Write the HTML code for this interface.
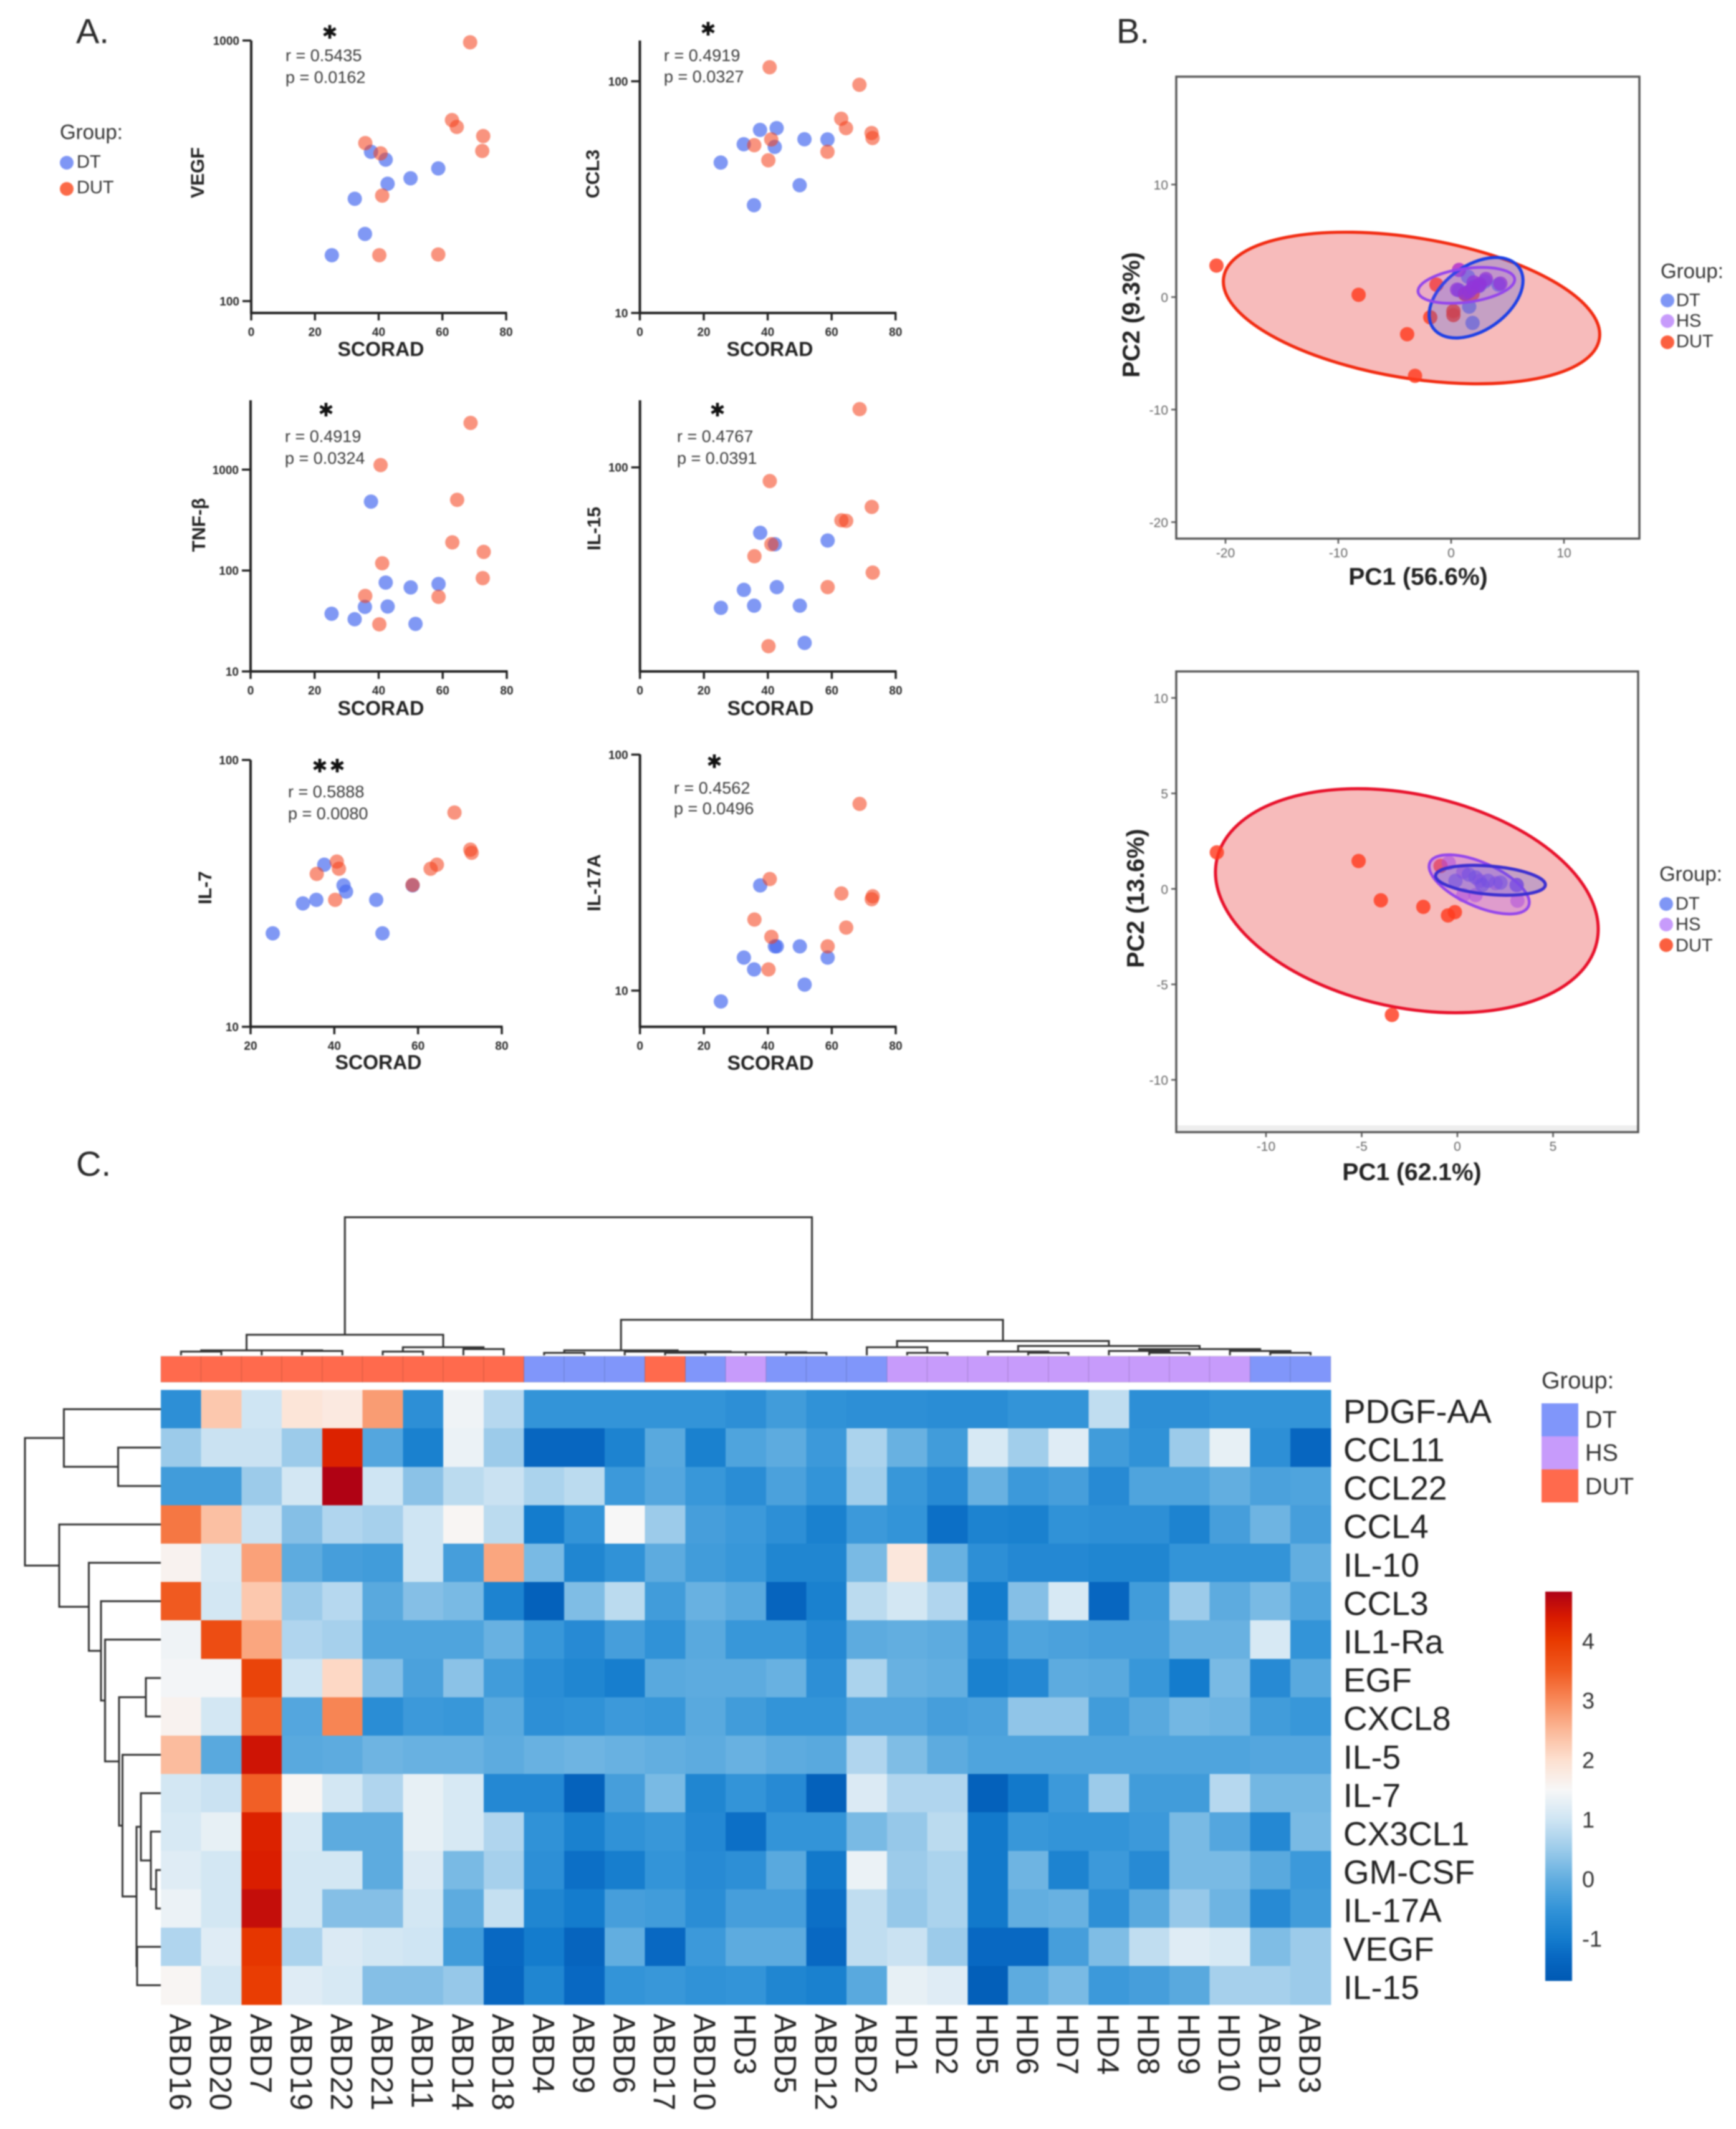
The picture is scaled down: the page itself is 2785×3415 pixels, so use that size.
<!DOCTYPE html>
<html lang="en">
<head>
<meta charset="utf-8">
<title>Cytokine correlations, PCA and heatmap</title>
<style>
html,body{margin:0;padding:0;background:#fff;overflow:hidden;}
svg{display:block;font-family:"Liberation Sans",Arial,sans-serif;filter:blur(1px);}
.panel-letter{font-size:56px;fill:#2a2a2a;}
.legend-title{font-size:33px;fill:#333;}
.legend-text{font-size:29px;fill:#333;}
.heat-legend{font-size:38px;fill:#333;}
</style>
</head>
<body>
<svg id="figure" xmlns="http://www.w3.org/2000/svg" width="2785" height="3415" viewBox="0 0 2785 3415">
  <rect x="0" y="0" width="2785" height="3415" fill="#ffffff"/>
  <text class="panel-letter" x="122" y="69">A.</text>
  <text class="panel-letter" x="1791" y="69">B.</text>
  <text class="panel-letter" x="122" y="1886">C.</text>

  <g>
    <text class="legend-title" x="96" y="223">Group:</text>
    <circle cx="107" cy="261" r="11" fill="#7f96f5"/>
    <text class="legend-text" x="123" y="269">DT</text>
    <circle cx="107" cy="303" r="11" fill="#fb6a48"/>
    <text class="legend-text" x="123" y="310">DUT</text>
  </g>

  <g>
    <text class="legend-title" x="2664" y="446">Group:</text>
    <circle cx="2675" cy="482" r="11" fill="#7f96f5"/>
    <text class="legend-text" x="2689" y="491">DT</text>
    <circle cx="2675" cy="515" r="11" fill="#c79bfb"/>
    <text class="legend-text" x="2689" y="524">HS</text>
    <circle cx="2675" cy="549" r="11" fill="#fb5f3f"/>
    <text class="legend-text" x="2689" y="557">DUT</text>
  </g>

  <g>
    <text class="legend-title" x="2662" y="1413">Group:</text>
    <circle cx="2673" cy="1450" r="11" fill="#7f96f5"/>
    <text class="legend-text" x="2688" y="1459">DT</text>
    <circle cx="2673" cy="1483" r="11" fill="#c79bfb"/>
    <text class="legend-text" x="2688" y="1492">HS</text>
    <circle cx="2673" cy="1516" r="11" fill="#fb5f3f"/>
    <text class="legend-text" x="2688" y="1526">DUT</text>
  </g>

  <g>
    <text class="heat-legend" x="2473" y="2227">Group:</text>
    <rect x="2473" y="2251" width="59" height="53" fill="#8096fa"/>
    <rect x="2473" y="2304" width="59" height="53" fill="#c79bfb"/>
    <rect x="2473" y="2357" width="59" height="53" fill="#ff6a4d"/>
    <text class="heat-legend" x="2543" y="2290">DT</text>
    <text class="heat-legend" x="2543" y="2343">HS</text>
    <text class="heat-legend" x="2543" y="2397">DUT</text>
  </g>
</svg>

<script>
// ---------- Panel A data: SCORAD of each subject, then one cytokine per array ----------
const scoradDT  = [25.3, 32.5, 35.7, 37.6, 42.2, 42.8, 50.0, 51.5, 58.7];
const scoradDUT = [35.8, 40.2, 40.6, 41.1, 58.7, 63.0, 64.5, 68.7, 72.5, 72.8];

const vegfDT   = [150, 247, 181, 374, 349, 282, 296, null, 323];
const vegfDUT  = [404, 150, 369, 254, 151, 495, 466, 984, 377, 430];
const ccl3DT   = [44.6, 53.5, 29.2, 61.7, 52.1, 62.8, 35.6, 56.2, 56.1];
const ccl3DUT  = [53, 45.6, 115, 56.1, 49.6, 68.9, 62.8, 96.6, 59.8, 56.9];
const tnfDT    = [37.3, 32.9, 43.6, 482, 76, 44, 68, 29.6, 73.5];
const tnfDUT   = [56, 29.3, 1109, 118, 54.8, 190, 502, 2904, 84, 153];
const il15DT   = [20.5, 25.1, 21, 47.8, 42, 25.9, 21, 13.8, 43.8];
const il15DUT  = [36.7, 13.3, 85.7, 42, 25.9, 55, 54.7, 193, 64, 30.5];
const il7DT    = [22.4, 29, 29.9, 40.5, 33.9, 32.1, 29.9, 22.4, 33.9];
const il7DUT   = [37.4, 29.9, 41.6, 39.1, 34, 39.1, 40.5, 63.5, 46.1, 44.9];
const il17aDT  = [9, 13.8, 12.3, 27.9, 15.4, 15.4, 15.4, 10.6, 13.8];
const il17aDUT = [20, 12.3, 29.7, 16.9, 15.4, 25.8, 18.5, 61.8, 24.4, 25.1];

const ticksX0to80  = [0, 20, 40, 60, 80];
const ticksX20to80 = [20, 40, 60, 80];

// ---------- Panel B data ----------
const pcaTopDutX = [-20.8, -8.2, -3.9, -3.2, -1.85, 0.2, 0.2, -1.3, 1.25, 1.9];
const pcaTopDutY = [2.8, 0.2, -3.3, -7.0, -1.8, -1.25, -1.6, 1.1, 0.25, 0.3];
const pcaTopHsX  = [0.7, 0.53, 2.53, 3.08, 4.36, 2.0, 2.38, 1.28, 1.9, 1.6];
const pcaTopHsY  = [2.41, 0.66, 1.14, 1.6, 1.2, 1.3, 0.98, 0.34, 0.8, 0.5];
const pcaTopDtX  = [1.6, 1.9, 4.2, 3.0, 2.5, 0.7, 1.2, 2.0, 1.5];
const pcaTopDtY  = [-0.85, -2.3, 1.1, 1.4, 1.0, 0.6, 0.3, 0.9, 1.8];
const pcaTopTicksX = [-20, -10, 0, 10];
const pcaTopTicksY = [10, 0, -10, -20];

const pcaBotDutX = [-12.57, -5.16, -4.0, -1.78, -0.49, -0.13, -3.42, -0.88];
const pcaBotDutY = [1.91, 1.46, -0.6, -0.94, -1.39, -1.22, -6.6, 1.2];
const pcaBotHsX  = [0.31, 0.95, 3.14, -0.45, 0.31, 1.16, 2.0, 3.1];
const pcaBotHsY  = [-0.33, -0.33, -0.62, 1.36, 0.88, 0.42, 0.3, 0.2];
const pcaBotDtX  = [0.95, 1.6, 2.25, 3.1, -0.1, 1.3, 0.6];
const pcaBotDtY  = [0.6, 0.42, 0.33, 0.2, 0.42, 0.2, 0.75];
const pcaBotTicksX = [-10, -5, 0, 5];
const pcaBotTicksY = [10, 5, 0, -5, -10];

// ellipse summaries: centre x, centre y, semi-axis a, semi-axis b, tilt in degrees
const pcaTopEllipseDUT = [-3.51, -0.97, 16.87, 6.22, 9.3];
const pcaTopEllipseDT  = [2.21, -0.06, 4.66, 2.88, -35];
const pcaTopEllipseHS  = [1.35, 1.04, 4.32, 1.49, -7.7];
const pcaBotEllipseDUT = [-2.64, -0.62, 10.16, 5.57, 12.2];
const pcaBotEllipseHS  = [1.14, 0.235, 2.82, 1.14, 23.9];
const pcaBotEllipseDT  = [1.73, 0.45, 2.88, 0.74, 5];

// ---------- Panel C data ----------
const colLabels = ["ABD16","ABD20","ABD7","ABD19","ABD22","ABD21","ABD11","ABD14","ABD18","ABD4","ABD9","ABD6","ABD17","ABD10","HD3","ABD5","ABD12","ABD2","HD1","HD2","HD5","HD6","HD7","HD4","HD8","HD9","HD10","ABD1","ABD3"];
const colGroups = ["DUT","DUT","DUT","DUT","DUT","DUT","DUT","DUT","DUT","DT","DT","DT","DUT","DT","HS","DT","DT","DT","HS","HS","HS","HS","HS","HS","HS","HS","HS","DT","DT"];
const rowLabels = ["PDGF-AA","CCL11","CCL22","CCL4","IL-10","CCL3","IL1-Ra","EGF","CXCL8","IL-5","IL-7","CX3CL1","GM-CSF","IL-17A","VEGF","IL-15"];
const heatValues = [
 [-.6,2.3,1.0,1.9,1.8,2.8,-.6,1.4,.75,-.5,-.5,-.5,-.5,-.5,-.6,-.35,-.55,-.6,-.6,-.65,-.65,-.5,-.5,.85,-.6,-.6,-.5,-.5,-.5],
 [.5,.95,.95,.5,4.3,-.15,-.9,1.35,.5,-1.35,-1.35,-.85,-.1,-.9,-.2,-.05,-.4,.65,.05,-.35,1.1,.55,1.2,-.35,-.55,.5,1.3,-.6,-1.35],
 [-.35,-.35,.5,1.05,4.8,1.0,.35,.8,.95,.65,.8,-.4,-.15,-.45,-.65,-.25,-.5,.55,-.45,-.7,.05,-.4,-.3,-.7,-.2,-.2,0,-.25,-.2],
 [3.2,2.4,.95,.3,.7,.6,1.0,1.55,.8,-1.0,-.5,1.5,.5,-.3,-.4,-.6,-.9,-.4,-.5,-1.2,-.85,-.9,-.55,-.6,-.6,-.85,-.3,.1,-.3],
 [1.6,1.1,2.75,-.05,-.3,-.35,1.0,-.3,2.7,.2,-.8,-.55,-.05,-.35,-.45,-.8,-.8,.2,1.85,.05,-.6,-.75,-.75,-.8,-.8,-.5,-.5,-.5,0],
 [3.5,1.05,2.3,.5,.75,-.1,.3,.2,-.85,-1.5,.25,.8,-.35,.05,-.1,-1.4,-.9,.8,1.05,.7,-1.0,.3,1.1,-1.35,-.35,.5,-.05,.2,-.2],
 [1.4,3.7,2.7,.7,.6,-.2,-.2,-.2,.05,-.45,-.7,-.3,-.55,-.1,-.45,-.45,-.75,-.05,0,-.05,-.7,-.2,-.25,-.3,-.3,.05,.05,1.1,-.5],
 [1.45,1.45,3.85,1.0,2.1,.3,-.25,.35,-.35,-.65,-.8,-.95,-.1,-.05,-.05,.05,-.6,.65,.05,0,-.9,-.75,-.05,-.1,-.45,-1.0,.2,-.7,-.1],
 [1.6,1.05,3.4,-.15,3.05,-.65,-.4,-.45,-.1,-.6,-.55,-.4,-.45,-.1,-.35,-.5,-.5,-.15,-.15,-.3,-.25,.4,.4,-.35,-.1,.15,.1,-.35,-.45],
 [2.45,-.1,4.5,-.1,-.05,.1,.05,.05,-.05,.05,.1,.05,0,-.05,.05,-.05,-.1,.7,.25,-.05,-.2,-.2,-.2,-.2,-.2,-.2,-.2,-.15,-.15],
 [1.05,.95,3.45,1.55,1.05,.7,1.3,1.1,-.75,-.75,-1.45,-.3,.2,-.8,-.5,-.7,-1.5,1.15,.7,.7,-1.5,-1.05,-.4,.5,-.35,-.35,.75,.15,.15],
 [1.1,1.3,4.3,1.1,-.05,-.05,1.3,1.1,.7,-.55,-.9,-.55,-.45,-.75,-1.2,-.5,-.5,.2,.45,.8,-1.05,-.45,-.5,-.5,-.4,.2,-.15,-.75,.2],
 [1.2,1.05,4.35,1.05,1.05,-.05,1.15,.2,.6,-.6,-1.2,-.95,-.5,-.7,-.6,-.1,-1.05,1.35,.5,.65,-1.05,.1,-.85,-.4,-.7,.2,.2,-.1,-.4],
 [1.35,1.05,4.6,1.05,.3,.3,1.05,-.05,.9,-.8,-1.0,-.3,-.35,-.65,-.3,-.3,-1.2,.85,.45,.65,-1.05,0,.05,-.6,-.1,.45,.1,-.7,-.35],
 [.7,1.2,4.05,.65,1.15,1.05,1.0,-.35,-1.3,-1.0,-1.4,0,-1.3,-.4,-.05,-.05,-1.3,.85,.95,.5,-1.3,-1.3,-.3,.25,.85,1.2,1.1,.25,.5],
 [1.55,1.05,3.95,1.2,1.1,.3,.3,.45,-1.35,-.8,-1.3,-.5,-.45,-.55,-.5,-.8,-.9,-.1,1.3,1.2,-1.55,-.05,.2,-.4,-.3,-.1,.6,.6,.5]
];
const colorbarTicks = [4, 3, 2, 1, 0, -1];
const colorStopValues = [-1.7,-1.3,-1,-.5,0,.5,1,1.5,2,2.5,3,3.5,4,4.4,4.83];
const colorStopHex = ["#0059b3","#0868c2","#147ccd","#3394d8","#62aee0","#9ccbea","#cfe5f3","#f7f7f7","#fde0d0","#fbb898","#f88a5a","#f05a20","#e83a00","#d81a00","#ad0016"];

// dendrograms: a node is [merge height, child, child]; a bare number is a leaf index
const colTree = [221.5,
  [33,
    [8, [6,0,1], [8,2,[7,3,4]]],
    [13, [6,5,6], [10,7,8]]],
  [57,
    [8, [4,9,10], [6,11,[5,[4,12,13],[5,14,[4,15,16]]]]],
    [23,
      [13, 17, [4,18,19]],
      [15,
        [6, 20, [4,21,22]],
        [10, [7,23,[4,24,25]], [7,26,[4,27,28]]]]]]];
const rowTree = [218,
  [155.5, 0, [68.5,1,2]],
  [163, 3,
    [115.5, 4,
      [96, 5,
        [89.5, 6,
          [67,
            [24,7,8],
            [61.5, 9,
              [39,
                [32,10,[16,11,[7.5,12,13]]],
                [38,14,15]]]]]]]]];

// ---------- helpers ----------
const SVGNS = "http://www.w3.org/2000/svg";
const root = document.getElementById("figure");
function make(tag, attrs, parent, text) {
  const el = document.createElementNS(SVGNS, tag);
  for (const k in attrs) el.setAttribute(k, attrs[k]);
  if (text !== undefined) el.textContent = text;
  parent.appendChild(el);
  return el;
}
function linear(d0, d1, r0, r1) { return v => r0 + (v - d0) * (r1 - r0) / (d1 - d0); }
function logScale(d0, d1, r0, r1) { return v => r0 + (Math.log10(v) - Math.log10(d0)) * (r1 - r0) / (Math.log10(d1) - Math.log10(d0)); }

// ---------- Panel A ----------
const scatterPanels = [
  {id:"vegf", title:"VEGF", dt:vegfDT, dut:vegfDUT, ax:403, right:812, ay:502, top:65, xt:ticksX0to80, yt:[1000,100], log:[100,483,1000,65], tlx:316, tly:277, sx:611, sb:571, rtx:458, rb:98, pb:133, r:"r = 0.5435", p:"p = 0.0162", stars:[[529,51]]},
  {id:"ccl3", title:"CCL3", dt:ccl3DT, dut:ccl3DUT, ax:1026.5, right:1436.7, ay:502, top:65, xt:ticksX0to80, yt:[100,10], log:[10,502,100,130.4], tlx:950, tly:279, sx:1235, sb:571, rtx:1065, rb:98, pb:132, r:"r = 0.4919", p:"p = 0.0327", stars:[[1136,46]]},
  {id:"tnf-beta", title:"TNF-β", dt:tnfDT, dut:tnfDUT, ax:402, right:813, ay:1077, top:642, xt:ticksX0to80, yt:[1000,100,10], log:[10,1077,1000,753.3], tlx:318, tly:842, sx:611, sb:1147, rtx:457, rb:709, pb:744, r:"r = 0.4919", p:"p = 0.0324", stars:[[523,657]]},
  {id:"il-15", title:"IL-15", dt:il15DT, dut:il15DUT, ax:1026.7, right:1437, ay:1077, top:642, xt:ticksX0to80, yt:[100], log:[10,1077,100,749.7], tlx:952, tly:848, sx:1236, sb:1147, rtx:1086, rb:709, pb:744, r:"r = 0.4767", p:"p = 0.0391", stars:[[1151,657]]},
  {id:"il-7", title:"IL-7", dt:il7DT, dut:il7DUT, ax:402, right:805, ay:1647, top:1219, xt:ticksX20to80, yt:[100,10], log:[10,1647,100,1219], tlx:328, tly:1424, sx:607, sb:1715, rtx:462, rb:1279, pb:1314, r:"r = 0.5888", p:"p = 0.0080", stars:[[513,1228],[541,1228]]},
  {id:"il-17a", title:"IL-17A", dt:il17aDT, dut:il17aDUT, ax:1026.7, right:1437, ay:1647, top:1210, xt:ticksX0to80, yt:[100,10], log:[10,1589,100,1210.4], tlx:952, tly:1416, sx:1236, sb:1716, rtx:1081, rb:1273, pb:1306, r:"r = 0.4562", p:"p = 0.0496", stars:[[1146,1221]]}
];

function drawDots(g, xs, ys, fx, fy, fill, op, rad, name) {
  xs.forEach((xv, i) => {
    if (ys[i] === null) return;
    const c = make("circle", {cx:fx(xv), cy:fy(ys[i]), r:rad, fill:fill, "fill-opacity":op}, g);
    
    
  });
}

scatterPanels.forEach(p => {
  const g = make("g", {}, root);
  
  
  const fx = linear(p.xt[0], p.xt[p.xt.length - 1], p.ax, p.right);
  const fy = logScale(p.log[0], p.log[2], p.log[1], p.log[3]);

  const yAxis = make("line", {x1:p.ax, x2:p.ax, y1:p.top, y2:p.ay + 1.5, stroke:"#222", "stroke-width":4}, g);
  
  
  const xAxis = make("line", {x1:p.ax - 1.5, x2:p.right + 1.5, y1:p.ay, y2:p.ay, stroke:"#222", "stroke-width":4}, g);
  
  

  p.xt.forEach(t => {
    const tick = make("line", {x1:fx(t), x2:fx(t), y1:p.ay, y2:p.ay + 12, stroke:"#222", "stroke-width":3.4}, g);
    
    
    const lab = make("text", {x:fx(t), y:p.ay + 37, "text-anchor":"middle", "font-size":19, "font-weight":"bold", fill:"#2a2a2a"}, g, t);
    
    
  });
  p.yt.forEach(t => {
    const tick = make("line", {x1:p.ax - 14, x2:p.ax, y1:fy(t), y2:fy(t), stroke:"#222", "stroke-width":3.4}, g);
    
    
    const lab = make("text", {x:p.ax - 19, y:fy(t) + 7, "text-anchor":"end", "font-size":19, "font-weight":"bold", fill:"#2a2a2a"}, g, t);
    
    
  });

  const ttl = make("text", {transform:"translate(" + (p.tlx + 11) + " " + p.tly + ") rotate(-90)", "text-anchor":"middle", "font-size":30, "font-weight":"bold", fill:"#222"}, g, p.title);
  
  
  const sc = make("text", {x:p.sx, y:p.sb, "text-anchor":"middle", "font-size":32, "font-weight":"bold", fill:"#222"}, g, "SCORAD");
  
  

  const rt = make("text", {x:p.rtx, y:p.rb, "font-size":27, fill:"#3a3a3a"}, g, p.r);
  
  
  const pt = make("text", {x:p.rtx, y:p.pb, "font-size":27, fill:"#3a3a3a"}, g, p.p);
  
  
  p.stars.forEach(s => {
    const st = make("text", {x:s[0], y:s[1] + 11, "text-anchor":"middle", "font-size":30, "font-family":"'DejaVu Sans',sans-serif", fill:"#111"}, g, "✱");
    
    
  });

  drawDots(g, scoradDT, p.dt, fx, fy, "#4a6cf0", 0.7, 11.5, 'point-dt');
  drawDots(g, scoradDUT, p.dut, fx, fy, "#f5401a", 0.56, 11.5, 'point-dut');
});

// ---------- Panel B ----------
const pcaPanels = [
  {id:"top", l:1887, r:2630, t:123, b:864, ox:2328, oy:476.5, ux:18.1, uy:18.05,
   tx:pcaTopTicksX, ty:pcaTopTicksY, dutX:pcaTopDutX, dutY:pcaTopDutY, hsX:pcaTopHsX, hsY:pcaTopHsY, dtX:pcaTopDtX, dtY:pcaTopDtY,
   eDUT:pcaTopEllipseDUT, eHS:pcaTopEllipseHS, eDT:pcaTopEllipseDT, order:["DT","HS"], dots:["DT","DUT","HS"], hsFill:0.16,
   xt:"PC1 (56.6%)", yt:"PC2 (9.3%)", xtx:2275, xtb:938, ytx:1828, yty:505, redStroke:"#f22a10", blue:"#1c3fe6", hsAlpha:0.75, hsColor:"#a81fd0", dtColor:"#5a5ae0", dtAlpha:0.62},
  {id:"bottom", l:1887, r:2628, t:1077, b:1816, ox:2338, oy:1425.8, ux:30.7, uy:30.63,
   tx:pcaBotTicksX, ty:pcaBotTicksY, dutX:pcaBotDutX, dutY:pcaBotDutY, hsX:pcaBotHsX, hsY:pcaBotHsY, dtX:pcaBotDtX, dtY:pcaBotDtY,
   eDUT:pcaBotEllipseDUT, eHS:pcaBotEllipseHS, eDT:pcaBotEllipseDT, order:["HS","DT"], dots:["DUT","HS","DT"], hsFill:0.34,
   xt:"PC1 (62.1%)", yt:"PC2 (13.6%)", xtx:2265, xtb:1893, ytx:1835, yty:1441, redStroke:"#e8102a", blue:"#3a2ed0", hsAlpha:0.5, hsColor:"#a838d8", dtColor:"#6a3ae0", dtAlpha:0.55}
];
pcaPanels.forEach(p => {
  const g = make("g", {}, root);
  
  
  const fx = v => p.ox + v * p.ux;
  const fy = v => p.oy - v * p.uy;

  if (p.id === "bottom") {
    const strip = make("rect", {x:p.l, y:p.b - 11, width:p.r - p.l, height:11, fill:"#eeeeee"}, g);
    
    
  }

  const styles = {
    DUT:{fill:"#e83232", op:0.33, stroke:p.redStroke, w:5},
    DT:{fill:"#465adc", op:0.28, stroke:p.blue, w:5},
    HS:{fill:"#b060f0", op:p.hsFill, stroke:"#9345ec", w:4.5}
  };
  function drawEllipse(k) {
    const e = p["e" + k], s = styles[k];
    const el = make("ellipse", {cx:fx(e[0]), cy:fy(e[1]), rx:e[2] * p.ux, ry:e[3] * p.ux,
      transform:"rotate(" + e[4] + " " + fx(e[0]) + " " + fy(e[1]) + ")",
      fill:s.fill, "fill-opacity":s.op, stroke:s.stroke, "stroke-width":s.w}, g);
    
    
  }
  drawEllipse("DUT");

  p.dots.forEach(k => {
    if (k === "DUT") drawDots(g, p.dutX, p.dutY, fx, fy, "#ff3a1e", 0.82, 11.5, 'point-dut');
    if (k === "HS") drawDots(g, p.hsX, p.hsY, fx, fy, p.hsColor, p.hsAlpha, 11.5, 'point-hs');
    if (k === "DT") drawDots(g, p.dtX, p.dtY, fx, fy, p.dtColor, p.dtAlpha, 11.5, 'point-dt');
  });

  p.order.forEach(drawEllipse);

  const frame = make("rect", {x:p.l, y:p.t, width:p.r - p.l, height:p.b - p.t, fill:"none", stroke:"#555", "stroke-width":3.4}, g);
  
  

  p.tx.forEach(t => {
    const tick = make("line", {x1:fx(t), x2:fx(t), y1:p.b, y2:p.b + 8, stroke:"#555", "stroke-width":2.5}, g);
    
    
    const lab = make("text", {x:fx(t), y:p.b + 30, "text-anchor":"middle", "font-size":21, fill:"#666"}, g, t);
    
    
  });
  p.ty.forEach(t => {
    const tick = make("line", {x1:p.l - 8, x2:p.l, y1:fy(t), y2:fy(t), stroke:"#555", "stroke-width":2.5}, g);
    
    
    const lab = make("text", {x:p.l - 13, y:fy(t) + 8, "text-anchor":"end", "font-size":21, fill:"#666"}, g, t);
    
    
  });

  const xl = make("text", {x:p.xtx, y:p.xtb, "text-anchor":"middle", "font-size":39, "font-weight":"bold", fill:"#222"}, g, p.xt);
  
  
  const yl = make("text", {transform:"translate(" + p.ytx + " " + p.yty + ") rotate(-90)", "text-anchor":"middle", "font-size":39, "font-weight":"bold", fill:"#222"}, g, p.yt);
  
  
});

// ---------- Panel C ----------
const heatLeft = 258, heatTop = 2229.6, cellW = 64.72, cellH = 61.6;
const annTop = 2175.5, annH = 41.5;
const groupColor = {DT:"#8096fa", HS:"#c79bfb", DUT:"#ff6a4d"};

function hexToRgb(h) { return [parseInt(h.slice(1,3),16), parseInt(h.slice(3,5),16), parseInt(h.slice(5,7),16)]; }
function heatColor(v) {
  const n = colorStopValues.length;
  if (v <= colorStopValues[0]) return colorStopHex[0];
  if (v >= colorStopValues[n-1]) return colorStopHex[n-1];
  let i = 0;
  while (v > colorStopValues[i+1]) i++;
  const t = (v - colorStopValues[i]) / (colorStopValues[i+1] - colorStopValues[i]);
  const a = hexToRgb(colorStopHex[i]), b = hexToRgb(colorStopHex[i+1]);
  return "rgb(" + a.map((c, k) => Math.round(c + (b[k] - c) * t)).join(",") + ")";
}
const colX = c => heatLeft + cellW * c;
const rowY = r => heatTop + cellH * r;

const heatG = make("g", {"shape-rendering":"crispEdges"}, root);


colGroups.forEach((grp, c) => {
  const a = make("rect", {x:colX(c), y:annTop, width:cellW, height:annH, fill:groupColor[grp], stroke:"rgba(0,0,0,0.12)", "stroke-width":1}, heatG);
  
  
});
heatValues.forEach((row, r) => {
  row.forEach((v, c) => {
    const cell = make("rect", {x:colX(c), y:rowY(r), width:cellW + 0.6, height:cellH + 0.6, fill:heatColor(v)}, heatG);
    
    
  });
});
rowLabels.forEach((lab, r) => {
  const t = make("text", {x:2155, y:rowY(r) + cellH / 2 + 22, "font-size":53.5, fill:"#222"}, root, lab);
  
  
});
colLabels.forEach((lab, c) => {
  const bx = colX(c) + cellW / 2 - 18;
  const t = make("text", {transform:"translate(" + bx + " 3230) rotate(90)", "font-size":49, fill:"#222"}, root, lab);
  
  
});

function drawTree(node, leafPos, basePos, horizontalLeaves, g) {
  if (typeof node === "number") return {pos:leafPos(node), h:0};
  const a = drawTree(node[1], leafPos, basePos, horizontalLeaves, g);
  const b = drawTree(node[2], leafPos, basePos, horizontalLeaves, g);
  const h = node[0];
  let d;
  if (horizontalLeaves) {
    const yn = basePos - h, ya = basePos - a.h, yb = basePos - b.h;
    d = "M" + a.pos + " " + ya + "V" + yn + "H" + b.pos + "V" + yb;
  } else {
    const xn = basePos - h, xa = basePos - a.h, xb = basePos - b.h;
    d = "M" + xa + " " + a.pos + "H" + xn + "V" + b.pos + "H" + xb;
  }
  const path = make("path", {d:d, fill:"none", stroke:"#333", "stroke-width":3}, g);
  
  
  return {pos:(a.pos + b.pos) / 2, h:h};
}
const colDendro = make("g", {}, root);


drawTree(colTree, c => colX(c) + cellW / 2, 2174, true, colDendro);
const rowDendro = make("g", {}, root);


drawTree(rowTree, r => rowY(r) + cellH / 2, 258, false, rowDendro);

// colour bar
const barX = 2479, barW = 43, barTop = 2553, barBottom = 3176.6;
const barScale = linear(4, -1, 2632, 3109.7);
const barG = make("g", {"shape-rendering":"crispEdges"}, root);


for (let y = barTop; y < barBottom; y += 4) {
  const v = 4 + (2632 - (y + 2)) / 95.5;
  const seg = make("rect", {x:barX, y:y, width:barW, height:4.6, fill:heatColor(v)}, barG);
  
  
}
colorbarTicks.forEach(t => {
  const lab = make("text", {x:2538, y:barScale(t) + 13, "font-size":36, fill:"#333"}, root, t < 0 ? "-" + Math.abs(t) : t);
  
  
});
</script>
</body>
</html>
